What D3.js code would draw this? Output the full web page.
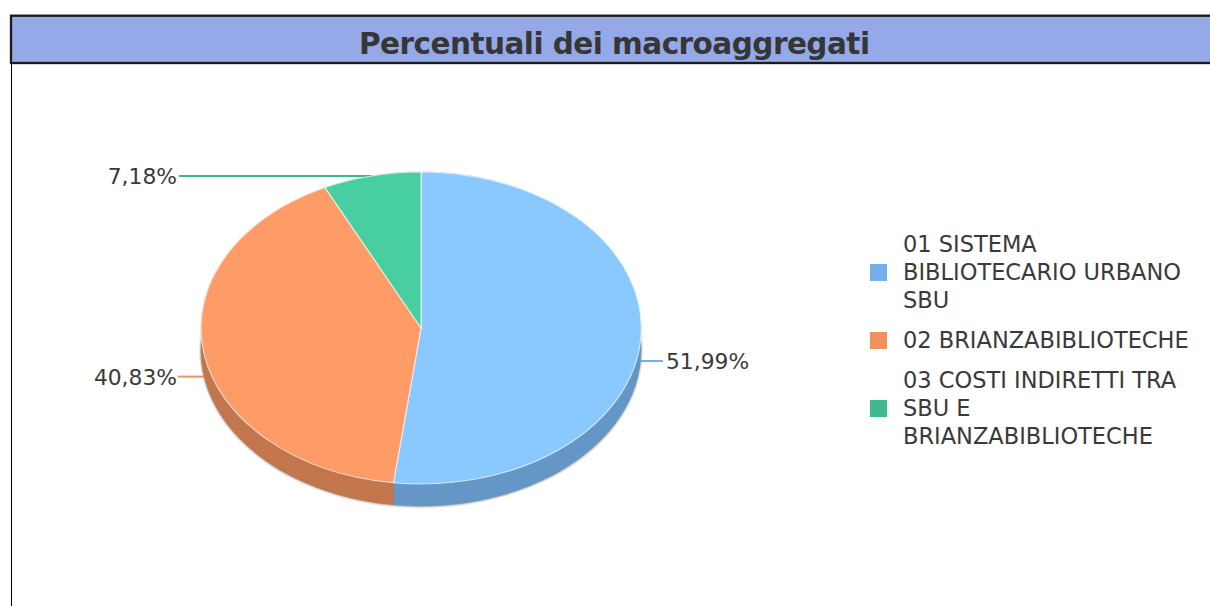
<!DOCTYPE html>
<html><head><meta charset="utf-8">
<script src="https://cdnjs.cloudflare.com/ajax/libs/d3/7.8.5/d3.min.js"></script>
<style>html,body{margin:0;padding:0;background:#fff;overflow:hidden}svg{display:block}</style>
</head><body><div id="c"></div>
<script>
const titleText = "Percentuali dei macroaggregati";
const categories = ["01 SISTEMA BIBLIOTECARIO URBANO SBU","02 BRIANZABIBLIOTECHE","03 COSTI INDIRETTI TRA SBU E BRIANZABIBLIOTECHE"];
const legendLines = [["01 SISTEMA","BIBLIOTECARIO URBANO","SBU"],["02 BRIANZABIBLIOTECHE"],["03 COSTI INDIRETTI TRA","SBU E","BRIANZABIBLIOTECHE"]];
const values = [51.99,40.83,7.18];
const labels = ["51,99%","40,83%","7,18%"];
const topColors = ["#8ac9ff","#ff9b66","#48cfa1"];
const sideColors = ["#6496c6","#c3754b","#38a07c"];
const legendColors = ["#75aee8","#f2905e","#3fb88e"];

const W=1210,H=606, cx=421, cy=328, rx=220, ry=156, depth=22;
const font="'DejaVu Sans',sans-serif";
const svg=d3.select("#c").append("svg").attr("width",W).attr("height",H);
const defs=svg.append("defs");
const f=defs.append("filter").attr("id","sh").attr("x","-5%").attr("y","-5%").attr("width","110%").attr("height","110%");
f.append("feGaussianBlur").attr("stdDeviation",1);

// frame and title band
svg.append("rect").attr("x",11.5).attr("y",16).attr("width",W).attr("height",H).attr("fill","#fff").attr("stroke","#000").attr("stroke-width",1);
svg.append("rect").attr("x",11).attr("y",15.7).attr("width",W).attr("height",47.3).attr("fill","#95a9e9").attr("stroke","#1a1a1a").attr("stroke-width",2.3);
svg.append("text").attr("x",614.5).attr("y",53.5).attr("text-anchor","middle")
  .attr("font-family",font).attr("font-weight","bold").attr("font-size",29.5)
  .attr("textLength",511).attr("lengthAdjust","spacing")
  .attr("fill","#363636").text(titleText);

const arcs=d3.pie().sort(null).value(d=>d)(values);
const px=a=>cx+rx*Math.sin(a), py=a=>cy-ry*Math.cos(a);
const arcGen=d3.arc().innerRadius(0).outerRadius(1);

// leader lines
arcs.forEach((d,i)=>{
  const m=(d.startAngle+d.endAngle)/2, right=Math.sin(m)>0;
  const lower=Math.cos(m)<0;
  const x0=px(m), y0=py(m)+(lower?depth+1.3:0);
  const x1=right?663:(i===1?178:179);
  svg.append("line").attr("x1",x0).attr("x2",x1).attr("y1",y0).attr("y2",y0).attr("stroke",legendColors[i]).attr("stroke-width",2);
  svg.append("text").attr("x",right?666:177).attr("y",y0+8).attr("text-anchor",right?"start":"end")
    .attr("font-family",font).attr("font-size",21.8).attr("fill","#3a3a3a").text(labels[i]);
});

// soft shadow and extruded side
svg.append("ellipse").attr("cx",cx).attr("cy",cy+depth+0.5).attr("rx",rx+0.5).attr("ry",ry+0.5).attr("fill","#999").attr("filter","url(#sh)");
const side=(a0,a1)=>{
  const pts=d3.range(0,61).map(k=>a0+(a1-a0)*k/60);
  return d3.line()(pts.map(a=>[px(a),py(a)]).concat(pts.slice().reverse().map(a=>[px(a),py(a)+depth])))+"Z";
};
arcs.forEach((d,i)=>{
  svg.append("path").attr("d",side(d.startAngle,d.endAngle)).attr("fill",sideColors[i]).attr("stroke",sideColors[i]).attr("stroke-width",0.5);
});

// top face
const face=svg.append("g").attr("transform",`translate(${cx},${cy}) scale(${rx},${ry})`);
arcs.forEach((d,i)=>{
  face.append("path").attr("d",arcGen(d)).attr("fill",topColors[i]).attr("stroke","#fff").attr("stroke-width",1.1).attr("vector-effect","non-scaling-stroke").attr("stroke-opacity",0.7);
});

// legend
const ly=[272,340,408], lh=28;
legendLines.forEach((ls,i)=>{
  svg.append("rect").attr("x",870).attr("y",ly[i]-8).attr("width",17).attr("height",17).attr("fill",legendColors[i]);
  const t=svg.append("text").attr("font-family",font).attr("font-size",22.5).attr("fill","#3a3a3a");
  ls.forEach((s,j)=>{
    t.append("tspan").attr("x",903).attr("y",ly[i]+8+(j-(ls.length-1)/2)*lh).text(s);
  });
});
</script></body></html>
